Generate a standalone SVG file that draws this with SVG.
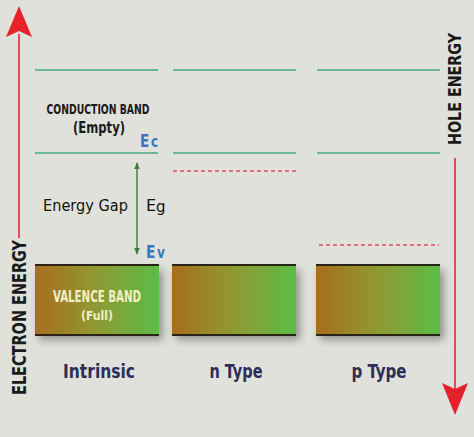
<svg xmlns="http://www.w3.org/2000/svg" width="474" height="437" viewBox="0 0 474 437">
<defs>
<linearGradient id="band" x1="0" y1="0" x2="1" y2="0">
<stop offset="0" stop-color="#a86d1e"/>
<stop offset="0.5" stop-color="#8f9a34"/>
<stop offset="1" stop-color="#5cbd46"/>
</linearGradient>
<filter id="sh" x="-10%" y="-10%" width="130%" height="150%">
<feGaussianBlur in="SourceAlpha" stdDeviation="4"/>
<feOffset dx="4" dy="5"/>
<feComponentTransfer><feFuncA type="linear" slope="0.35"/></feComponentTransfer>
<feMerge><feMergeNode/><feMergeNode in="SourceGraphic"/></feMerge>
</filter>
<marker id="gh" viewBox="0 0 10 10" refX="9" refY="5" markerWidth="5" markerHeight="5" orient="auto-start-reverse">
<path d="M0,1 L10,5 L0,9 Z" fill="#3d7a3d"/>
</marker>
</defs>
<style>
.lvl{stroke:#6bb892;stroke-width:2;}
.dash{stroke:#e44a5a;stroke-width:1.6;stroke-dasharray:4,3;}
.edge{stroke:#2a2414;stroke-width:2.2;}
.cond{font-family:"DejaVu Sans Condensed","Liberation Sans",sans-serif;font-weight:bold;}
.lab{fill:#2c2e57;font-size:19px;}
.blue{fill:#3a78be;font-family:"DejaVu Sans","Liberation Sans",sans-serif;}
</style>
<rect width="474" height="437" fill="#dfe1da"/>

<g id="axis-electron">
<line x1="19" y1="34" x2="19" y2="238" stroke="#d9505c" stroke-width="2"/>
<path d="M19,6 L32,37 L19,31 L6,37 Z" fill="#e5222c"/>
<text class="cond" transform="translate(26,395) rotate(-90)" font-size="19" fill="#1a1a1a" textLength="155" lengthAdjust="spacingAndGlyphs">ELECTRON ENERGY</text>
</g>

<g id="axis-hole">
<line x1="455" y1="158" x2="455" y2="392" stroke="#d9505c" stroke-width="2"/>
<path d="M455,415 L442,383 L455,389 L468,383 Z" fill="#e5222c"/>
<text class="cond" transform="translate(461,145) rotate(-90)" font-size="18" fill="#1a1a1a" textLength="112" lengthAdjust="spacingAndGlyphs">HOLE ENERGY</text>
</g>

<g id="connectors">
<line x1="137" y1="163" x2="137" y2="254" stroke="#3d7a3d" stroke-width="1.4" marker-start="url(#gh)" marker-end="url(#gh)"/>
</g>

<g id="intrinsic">
<line class="lvl" x1="35" y1="70" x2="158" y2="70"/>
<line class="lvl" x1="35" y1="153" x2="158" y2="153"/>
<text class="cond" x="98" y="114" font-size="13.5" fill="#1a1a1a" text-anchor="middle" textLength="103" lengthAdjust="spacingAndGlyphs">CONDUCTION BAND</text>
<text class="cond" x="99" y="133" font-size="15" fill="#1a1a1a" text-anchor="middle" textLength="52" lengthAdjust="spacingAndGlyphs">(Empty)</text>
<text class="blue" x="140" y="147" font-size="17" font-weight="bold" textLength="18" lengthAdjust="spacingAndGlyphs">E<tspan font-size="15" dx="2">c</tspan></text>
<text x="43" y="211" font-family="DejaVu Sans,'Liberation Sans',sans-serif" font-size="15" fill="#111" textLength="85" lengthAdjust="spacingAndGlyphs">Energy Gap</text>
<text x="146" y="211" font-family="DejaVu Sans,'Liberation Sans',sans-serif" font-size="16" fill="#111">E<tspan font-size="15" dy="1">g</tspan></text>
<text class="blue" x="146" y="258" font-size="17" font-weight="bold" textLength="19" lengthAdjust="spacingAndGlyphs">E<tspan font-size="15" dx="2">v</tspan></text>
<g filter="url(#sh)">
<rect x="35" y="265" width="124" height="70" fill="url(#band)"/>
</g>
<line class="edge" x1="35" y1="265" x2="159" y2="265"/>
<line class="edge" x1="35" y1="335" x2="159" y2="335"/>
<text class="cond" x="97" y="302" font-size="16" fill="#f3efc6" text-anchor="middle" textLength="88" lengthAdjust="spacingAndGlyphs">VALENCE BAND</text>
<text class="cond" x="97" y="320" font-size="13" fill="#f3efc6" text-anchor="middle" textLength="32" lengthAdjust="spacingAndGlyphs">(Full)</text>
<text class="cond lab" x="99" y="378" text-anchor="middle" textLength="72" lengthAdjust="spacingAndGlyphs">Intrinsic</text>
</g>

<g id="n-type">
<line class="lvl" x1="173" y1="70" x2="296" y2="70"/>
<line class="lvl" x1="173" y1="153" x2="296" y2="153"/>
<line class="dash" x1="173" y1="171" x2="296" y2="171"/>
<g filter="url(#sh)">
<rect x="172" y="265" width="124" height="70" fill="url(#band)"/>
</g>
<line class="edge" x1="172" y1="265" x2="296" y2="265"/>
<line class="edge" x1="172" y1="335" x2="296" y2="335"/>
<text class="cond lab" x="236" y="378" text-anchor="middle" textLength="53" lengthAdjust="spacingAndGlyphs">n Type</text>
</g>

<g id="p-type">
<line class="lvl" x1="317" y1="70" x2="440" y2="70"/>
<line class="lvl" x1="317" y1="153" x2="440" y2="153"/>
<line class="dash" x1="319" y1="245" x2="439" y2="245"/>
<g filter="url(#sh)">
<rect x="316" y="265" width="124" height="70" fill="url(#band)"/>
</g>
<line class="edge" x1="316" y1="265" x2="440" y2="265"/>
<line class="edge" x1="316" y1="335" x2="440" y2="335"/>
<text class="cond lab" x="379" y="378" text-anchor="middle" textLength="55" lengthAdjust="spacingAndGlyphs">p Type</text>
</g>
</svg>
